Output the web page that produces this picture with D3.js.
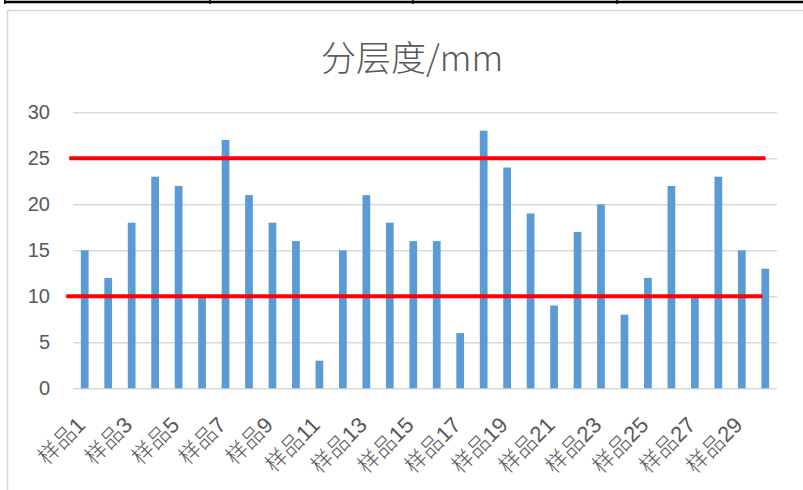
<!DOCTYPE html>
<html>
<head>
<meta charset="utf-8">
<script src="https://cdn.jsdelivr.net/npm/d3@7/dist/d3.min.js"></script>
<style>
  html, body { margin: 0; padding: 0; background: #fff; }
  svg { display: block; }
</style>
</head>
<body>
<div id="chart"></div>
<script>
// Sample names and their layer-separation values (mm)
const categories = d3.range(1, 31).map(i => "样品" + i);
const values = [15, 12, 18, 23, 22, 10, 27, 21, 18, 16,
                3, 15, 21, 18, 16, 16, 6, 28, 24, 19,
                9, 17, 20, 8, 12, 22, 10, 23, 15, 13];
const yTicks = [0, 5, 10, 15, 20, 25, 30];
// Upper / lower limit lines; start/end given in category-slot units
const limitValues = [25, 10];
const limitStart = [-0.16, -0.29];
const limitEnd = [29.51, 29.38];

const W = 803, H = 490;
const plot = { left: 73, right: 777, top: 112.3, bottom: 388.3 };

const svg = d3.select("#chart").append("svg")
  .attr("width", W).attr("height", H);

// table rule above the chart
svg.append("line").attr("x1", 4).attr("x2", W).attr("y1", 2).attr("y2", 2)
  .attr("stroke", "#000").attr("stroke-width", 2.5);
[5, 210, 413, 617].forEach(x => {
  svg.append("line").attr("x1", x).attr("x2", x).attr("y1", 0).attr("y2", 4)
    .attr("stroke", "#000").attr("stroke-width", 1.5);
});

// chart area frame
svg.append("rect").attr("x", 7.5).attr("y", 10.5)
  .attr("width", 900).attr("height", 600)
  .attr("fill", "#fff").attr("stroke", "#d9d9d9").attr("stroke-width", 1.5);

// title
svg.append("text")
  .attr("x", 412).attr("y", 71)
  .attr("text-anchor", "middle")
  .attr("font-family", "'Noto Sans CJK SC', sans-serif")
  .attr("font-weight", 300)
  .attr("font-size", 35)
  .attr("fill", "#595959")
  .text("分层度/mm");

const x = d3.scaleBand()
  .domain(categories)
  .range([plot.left, plot.right])
  .paddingInner(0.67)
  .paddingOuter(0.335);

const y = d3.scaleLinear()
  .domain([0, 30])
  .range([plot.bottom, plot.top]);

const slot = d3.scaleLinear()
  .domain([0, categories.length])
  .range([plot.left, plot.right]);

// y axis: labels + gridlines
const yAxis = svg.append("g")
  .attr("transform", `translate(${plot.left},0)`)
  .call(d3.axisLeft(y).tickValues(yTicks).tickSize(-(plot.right - plot.left)).tickPadding(23));
yAxis.select(".domain").remove();
yAxis.selectAll(".tick line")
  .attr("stroke", "#d9d9d9").attr("stroke-width", 1.5);
yAxis.selectAll(".tick text")
  .attr("font-family", "'Liberation Sans', Arial, sans-serif")
  .attr("font-size", 20)
  .attr("fill", "#595959");

// bars
svg.append("g").selectAll("rect")
  .data(values)
  .join("rect")
  .attr("x", (d, i) => x(categories[i]))
  .attr("y", d => y(d))
  .attr("width", x.bandwidth())
  .attr("height", d => y(0) - y(d))
  .attr("fill", "#5b9bd5");

// x axis labels (every other sample)
const xAxis = svg.append("g")
  .attr("transform", `translate(0,${plot.bottom})`)
  .call(d3.axisBottom(x).tickValues(categories.filter((c, i) => i % 2 === 0)).tickSize(0));
xAxis.select(".domain").remove();
xAxis.selectAll(".tick text")
  .attr("y", 0).attr("dy", 0)
  .attr("text-anchor", "end")
  .attr("transform", "translate(2,38) rotate(-45)")
  .attr("font-family", "'Liberation Sans', 'Noto Sans CJK SC', sans-serif")
  .attr("font-weight", 300)
  .attr("font-size", 22)
  .attr("fill", "#595959");

// limit lines
svg.append("g").selectAll("line")
  .data(limitValues)
  .join("line")
  .attr("x1", (d, i) => slot(limitStart[i]))
  .attr("x2", (d, i) => slot(limitEnd[i]))
  .attr("y1", d => y(d))
  .attr("y2", d => y(d))
  .attr("stroke", "#ff0000")
  .attr("stroke-width", 4);
</script>
</body>
</html>
